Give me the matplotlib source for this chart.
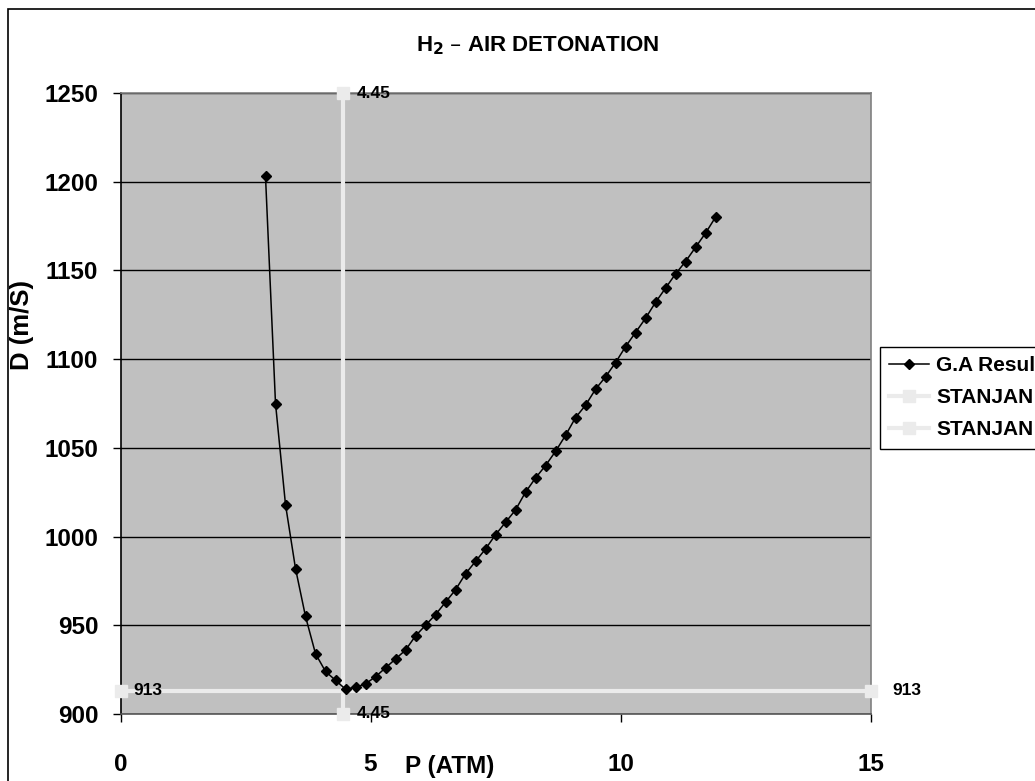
import matplotlib
matplotlib.use("Agg")
import matplotlib.pyplot as plt
from matplotlib.patches import Rectangle

plt.rcParams['font.family'] = ['Liberation Sans', 'DejaVu Sans']
plt.rcParams['font.weight'] = 'bold'

# ---- data ----
pressure = [2.9, 3.1, 3.3, 3.5, 3.7, 3.9, 4.1, 4.3, 4.5, 4.7, 4.9, 5.1, 5.3, 5.5,
            5.7, 5.9, 6.1, 6.3, 6.5, 6.7, 6.9, 7.1, 7.3, 7.5, 7.7, 7.9, 8.1, 8.3,
            8.5, 8.7, 8.9, 9.1, 9.3, 9.5, 9.7, 9.9, 10.1, 10.3, 10.5, 10.7, 10.9,
            11.1, 11.3, 11.5, 11.7, 11.9]
velocity = [1203, 1075, 1018, 982, 955, 934, 924, 919, 914, 915, 917, 921, 926, 931,
            936, 944, 950, 956, 963, 970, 979, 986, 993, 1001, 1008, 1015, 1025, 1033,
            1040, 1048, 1057, 1067, 1074, 1083, 1090, 1098, 1107, 1115, 1123, 1132, 1140,
            1148, 1155, 1163, 1171, 1180]
stanjan_v_x = [4.45, 4.45]
stanjan_v_y = [1250, 900]
stanjan_h_x = [0, 15]
stanjan_h_y = [913, 913]
x_ticks = [0, 5, 10, 15]
y_ticks = [900, 950, 1000, 1050, 1100, 1150, 1200, 1250]

W, H = 1035, 781
fig = plt.figure(figsize=(W / 100, H / 100), dpi=100)
fig.patch.set_facecolor('white')

# axes placement in pixels
L, R, T, B = 120.5, 870.5, 93, 714
ax = fig.add_axes([L / W, 1 - B / H, (R - L) / W, (B - T) / H])
ax.set_facecolor('#C0C0C0')
ax.set_xlim(0, 15)
ax.set_ylim(900, 1250)

for y in y_ticks:
    ax.axhline(y, color='black', lw=1.0, zorder=1)

stan_col = '#EBEBEB'
ax.plot(stanjan_v_x, stanjan_v_y, color=stan_col, lw=3, marker='s', ms=9,
        mec=stan_col, mfc=stan_col, clip_on=False, zorder=3, label='STANJAN')
ax.plot(stanjan_h_x, stanjan_h_y, color=stan_col, lw=3, marker='s', ms=9,
        mec=stan_col, mfc=stan_col, clip_on=False, zorder=3, label='STANJAN')
ax.plot(pressure, velocity, color='black', lw=1.1, marker='D', ms=5.5,
        mfc='black', mec='black', zorder=4, label='G.A Result')

lab_kw = dict(fontsize=12.5, fontweight='bold', color='black', va='center', zorder=5)
ax.annotate('4.45', (stanjan_v_x[0], stanjan_v_y[0]), xytext=(14, 0),
            textcoords='offset pixels', ha='left', annotation_clip=False, **lab_kw)
ax.annotate('4.45', (stanjan_v_x[1], stanjan_v_y[1]), xytext=(14, 0),
            textcoords='offset pixels', ha='left', annotation_clip=False, **lab_kw)
ax.annotate('913', (stanjan_h_x[0], stanjan_h_y[0]), xytext=(13, 0),
            textcoords='offset pixels', ha='left', annotation_clip=False, **lab_kw)
ax.annotate('913', (stanjan_h_x[1], stanjan_h_y[1]), xytext=(22, 0),
            textcoords='offset pixels', ha='left', annotation_clip=False, **lab_kw)

ax.set_xticks(x_ticks)
ax.set_yticks(y_ticks)
ax.tick_params(axis='x', direction='out', length=6, width=1, pad=22,
               labelsize=17.5, colors='black')
ax.tick_params(axis='y', direction='out', length=6, width=1, pad=10,
               labelsize=17.5, colors='black')
for lbl in ax.get_xticklabels() + ax.get_yticklabels():
    lbl.set_fontweight('bold')

ax.spines['left'].set_color('black')
ax.spines['bottom'].set_color('#555555')
ax.spines['top'].set_color('#808080')
ax.spines['right'].set_color('#808080')
for s in ax.spines.values():
    s.set_linewidth(1.2)

fig.text(538 / W, 1 - 46 / H, 'H$_\\mathbf{2}$ – AIR DETONATION', ha='center', va='center',
         fontsize=16, fontweight='bold')
fig.text(450 / W, 1 - 766 / H, 'P (ATM)', ha='center', va='center',
         fontsize=17.5, fontweight='bold')
fig.text(22 / W, 1 - 325 / H, 'D (m/S)', ha='center', va='center', rotation=90,
         fontsize=18.5, fontweight='bold')

handles, labels = ax.get_legend_handles_labels()
order = [2, 0, 1]
leg = fig.legend([handles[i] for i in order], [labels[i] for i in order],
                 loc='upper left', bbox_to_anchor=(880 / W, 1 - 347 / H),
                 frameon=True, fancybox=False, edgecolor='black', framealpha=1,
                 prop={'size': 15, 'weight': 'bold'}, handlelength=1.9,
                 handletextpad=0.35, borderpad=0.45, labelspacing=0.62,
                 borderaxespad=0)
leg.get_frame().set_linewidth(1.0)

fig.patches.append(Rectangle((8 / W, -0.1), 2.0, 1 - 9 / H + 0.1,
                             transform=fig.transFigure, fill=False,
                             edgecolor='black', lw=1.2))

fig.savefig('out.png', dpi=100, facecolor='white')
